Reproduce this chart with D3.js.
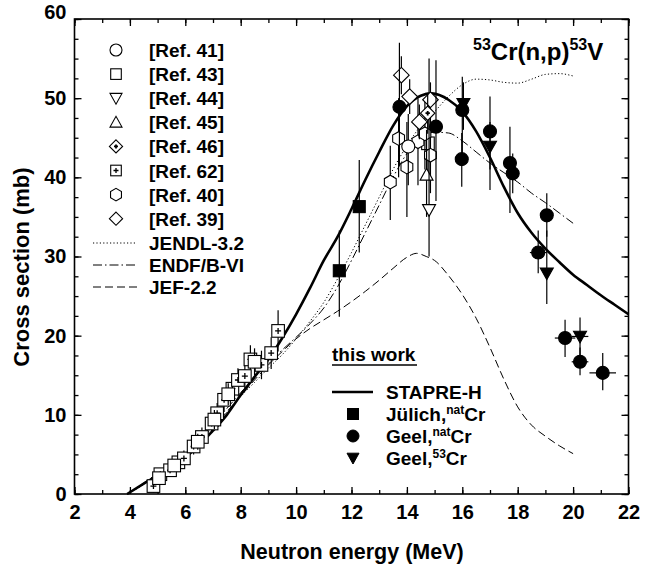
<!DOCTYPE html>
<html lang="en">
<head>
<meta charset="UTF-8">
<title>53Cr(n,p)53V cross section</title>
<script src="https://d3js.org/d3.v7.min.js"></script>
<style>
  body { margin: 0; background: #fff; }
  svg { display: block; font-family: "Liberation Sans", Arial, sans-serif; font-weight: bold; }
</style>
</head>
<body>
<svg id="chart" width="651" height="568"></svg>
<script>
// ---- data (energy in MeV, cross section in mb) ----
const stapre = [[3.9,0],[4.5,1.3],[5,2.4],[5.5,3.6],[6,4.6],[6.5,6.2],[7,8.0],[7.5,10.0],[8,12.5],[8.5,14.8],[9,17.0],[9.5,19.7],[10,22.7],[10.5,26.0],[11,29.5],[11.5,32.5],[12,36.0],[12.5,39.7],[13,43.2],[13.5,46.5],[14,49.0],[14.5,50.3],[14.9,50.6],[15.5,49.8],[16,48.3],[16.5,45.8],[17,42.5],[17.5,38.8],[18,35.5],[18.5,33.0],[19,31.0],[19.5,29.3],[20,27.7],[20.5,26.4],[21,25.1],[21.5,23.9],[22,22.7]];
const jendl = [[3.9,0],[4.5,1.2],[5,2.4],[5.5,3.5],[6,4.7],[6.5,6.3],[7,8.2],[7.5,10.3],[8,12.3],[8.5,14.1],[9,15.9],[9.5,17.6],[10,19.6],[10.5,21.8],[11,24.2],[11.5,27.2],[12,30.5],[12.5,34],[13,37.5],[13.5,41],[14,44],[14.5,46.5],[15,48.3],[15.5,50.2],[16,51.7],[16.5,52.4],[17,52.3],[17.5,52.0],[18,51.9],[18.5,52.4],[19,53.0],[19.5,53.1],[20,52.8]];
const endf = [[3.9,0],[4.5,1.4],[5,2.6],[5.5,3.8],[6,5.1],[6.5,6.8],[7,8.8],[7.5,10.8],[8,12.8],[8.5,14.7],[9,16.5],[9.5,18.2],[10,19.8],[10.5,21.5],[11,23.5],[11.5,26.2],[12,29.5],[12.5,33],[13,36.5],[13.5,40],[14,43],[14.5,45],[15,45.7],[15.5,45.6],[16,44.6],[16.5,43.2],[17,41.8],[17.5,40.6],[18,39.4],[18.5,38],[19,36.8],[19.5,35.5],[20,34.2]];
const jef = [[3.9,0],[4.5,1.3],[5,2.5],[5.5,3.7],[6,5.0],[6.5,6.6],[7,8.5],[7.5,10.4],[8,12.4],[8.5,14.4],[9,16.3],[9.5,18.0],[10,19.6],[10.5,20.9],[11,22.0],[11.5,23.1],[12,24.3],[12.5,25.6],[13,27.0],[13.5,28.5],[14,29.9],[14.35,30.4],[14.7,30.0],[15,29.5],[15.5,27.6],[16,25.2],[16.5,22.2],[17,18.5],[17.5,14.5],[18,11.0],[18.5,8.7],[19,7.3],[19.5,6.1],[20,5.1]];

// [energy, sigma, low, high, energy half-width]
const julich = [[11.56,28.2,22.4,33.3,0],[12.28,36.3,30.5,42.2,0]];
const geelNat = [[13.73,48.9,41.5,57.0,0],[15.05,46.4,37.0,54.8,0],[16.0,48.5,43.0,52.7,0],[15.98,42.3,38.8,45.6,0],[17.0,45.8,38.4,50.2,0],[17.72,41.8,35.5,46.4,0],[17.82,40.5,38.0,43.0,0],[19.05,35.2,32.5,38.0,0],[18.74,30.5,27.9,33.3,0.3],[19.71,19.7,17.3,22.0,0.37],[20.25,16.7,15.0,18.5,0.3],[21.07,15.3,13.1,17.8,0.48]];
const geel53 = [[16.04,49.3,46.0,52.0,0],[17.0,43.9,41.0,47.0,0],[19.05,27.9,24.0,33.3,0],[20.25,19.9,17.5,22.3,0.3]];

const ref41 = [[14.05,43.9,39.0,48.0]];
const ref43 = [[5.05,2.0,1.3,2.7],[5.6,3.6,2.8,4.4],[6.45,6.6,5.6,7.6],[7.05,9.4,8.2,10.6],[7.55,12.6,11.2,14.0],[8.5,16.7,15.0,18.4],[14.76,44.3,40.0,48.0]];
const ref44 = [[14.8,35.9,30.0,55.0]];
const ref45 = [[14.71,40.3,35.0,46.0]];
const ref46 = [[14.75,48.1,45.5,50.7]];
const ref62 = [[4.85,1.0,0.2,1.8],[5.1,2.5,1.7,3.3],[5.45,3.0,2.2,3.8],[5.75,4.0,3.1,4.9],[5.95,4.5,3.5,5.5],[6.3,6.0,5.0,7.0],[6.6,7.2,6.0,8.4],[6.95,8.9,7.7,10.1],[7.15,10.2,8.9,11.5],[7.4,11.9,10.5,13.3],[7.7,13.3,11.8,14.8],[7.9,14.4,12.9,15.9],[8.15,14.9,13.3,16.5],[8.35,17.0,15.2,18.8],[8.75,16.3,14.5,18.1],[9.1,17.8,15.8,19.8],[9.35,20.6,18.0,23.2]];
const ref40 = [[13.4,39.4,34.6,44.0],[13.7,44.9,40.0,50.0],[14.0,41.3,35.0,47.0],[14.4,44.5,39.0,50.0],[14.65,45.5,41.0,50.0],[14.85,42.8,38.0,47.5]];
const ref39 = [[13.8,52.9,50.5,55.3],[14.1,50.2,48.0,52.4],[14.45,47.0,44.8,49.2],[14.85,49.8,47.6,52.0]];

const refLabels = ["[Ref. 41]","[Ref. 43]","[Ref. 44]","[Ref. 45]","[Ref. 46]","[Ref. 62]","[Ref. 40]","[Ref. 39]"];
const libLabels = ["JENDL-3.2","ENDF/B-VI","JEF-2.2"];
const xTicks = [2,4,6,8,10,12,14,16,18,20,22];
const yTicks = [0,10,20,30,40,50,60];

// ---- setup ----
const svg = d3.select("#chart");
const x = d3.scaleLinear().domain([2, 22]).range([74.5, 628.5]);
const y = d3.scaleLinear().domain([0, 60]).range([494, 19]);

svg.append("rect").attr("width", 651).attr("height", 568).attr("fill", "#fff");

// axes: major ticks with labels, minor ticks without, all pointing inward
function addAxis(axis, tx, ty) {
  return svg.append("g").attr("transform", `translate(${tx},${ty})`).call(axis)
    .call(g => g.select(".domain").remove())
    .call(g => g.selectAll("line").attr("stroke", "#000").attr("stroke-width", 1.3));
}
const minorX = d3.range(2, 23, 1), minorY = d3.range(0, 60.1, 2.5);
addAxis(d3.axisBottom(x).tickValues(minorX).tickSize(-4).tickFormat(""), 0, 494);
addAxis(d3.axisTop(x).tickValues(minorX).tickSize(-4).tickFormat(""), 0, 19);
addAxis(d3.axisLeft(y).tickValues(minorY).tickSize(-4).tickFormat(""), 74.5, 0);
addAxis(d3.axisRight(y).tickValues(minorY).tickSize(-4).tickFormat(""), 628.5, 0);
addAxis(d3.axisTop(x).tickValues(xTicks).tickSize(-7).tickFormat(""), 0, 19);
addAxis(d3.axisRight(y).tickValues(yTicks).tickSize(-7).tickFormat(""), 628.5, 0);
addAxis(d3.axisBottom(x).tickValues(xTicks).tickSizeInner(-7).tickSizeOuter(0).tickPadding(11), 0, 494)
  .selectAll("text").attr("font-size", 20).attr("font-family", "Liberation Sans, Arial, sans-serif").attr("font-weight", "bold").attr("fill", "#000");
addAxis(d3.axisLeft(y).tickValues(yTicks).tickSizeInner(-7).tickSizeOuter(0).tickPadding(8), 74.5, 0)
  .selectAll("text").attr("font-size", 20).attr("font-family", "Liberation Sans, Arial, sans-serif").attr("font-weight", "bold").attr("fill", "#000")
  .attr("dy", d => d === 60 ? "-0.05em" : "0.32em");

svg.append("rect").attr("x", 74.5).attr("y", 19).attr("width", 554).attr("height", 475)
  .attr("fill", "none").attr("stroke", "#000").attr("stroke-width", 1.6);

svg.append("text").attr("x", 352).attr("y", 559).attr("text-anchor", "middle")
  .attr("font-size", 21.5).text("Neutron energy (MeV)");
svg.append("text").attr("transform", "translate(29,267) rotate(-90)").attr("text-anchor", "middle")
  .attr("font-size", 22).text("Cross section (mb)");

// ---- evaluated curves ----
const line = d3.line().x(d => x(d[0])).y(d => y(d[1])).curve(d3.curveMonotoneX);
const curveStyles = [
  [jendl, 1, "1.2,2.2"],
  [endf, 1, "9,3,1.5,3"],
  [jef, 1, "8,4"],
  [stapre, 2.6, null]
];
curveStyles.forEach(([data, w, dash]) => {
  svg.append("path").attr("d", line(data)).attr("fill", "none").attr("stroke", "#000")
    .attr("stroke-width", w).attr("stroke-dasharray", dash);
});

// ---- markers ----
function marker(g, type, size) {
  const s = size;
  switch (type) {
    case "circle": g.append("circle").attr("r", s); break;
    case "square": g.append("rect").attr("x", -s).attr("y", -s).attr("width", 2 * s).attr("height", 2 * s); break;
    case "down": g.append("path").attr("d", `M${-s},${-s * 0.8}L${s},${-s * 0.8}L0,${s * 1.0}Z`); break;
    case "up": g.append("path").attr("d", `M${-s},${s * 0.8}L${s},${s * 0.8}L0,${-s * 1.0}Z`); break;
    case "diamond": g.append("path").attr("d", `M0,${-s * 1.2}L${s * 1.2},0L0,${s * 1.2}L${-s * 1.2},0Z`); break;
    case "hex": {
      const pts = d3.range(6).map(i => { const a = Math.PI / 3 * i + Math.PI / 6; return [s * 1.05 * Math.cos(a), s * 1.05 * Math.sin(a)]; });
      g.append("path").attr("d", "M" + pts.join("L") + "Z"); break;
    }
  }
}
function plus(g, s, w) {
  g.append("path").attr("d", `M${-s},0L${s},0M0,${-s}L0,${s}`).attr("stroke-width", w || 1.3).attr("fill", "none");
}

function drawSeries(data, type, size, filled, extra) {
  const g = svg.append("g");
  data.forEach(d => {
    g.append("line").attr("x1", x(d[0])).attr("x2", x(d[0])).attr("y1", y(d[2])).attr("y2", y(d[3]))
      .attr("stroke", "#000").attr("stroke-width", 1.2);
    if (d[4]) g.append("line").attr("x1", x(d[0] - d[4])).attr("x2", x(d[0] + d[4])).attr("y1", y(d[1])).attr("y2", y(d[1]))
      .attr("stroke", "#000").attr("stroke-width", 1.2);
  });
  data.forEach(d => {
    const m = g.append("g").attr("transform", `translate(${x(d[0])},${y(d[1])})`)
      .attr("fill", filled ? "#000" : "#fff").attr("stroke", "#000").attr("stroke-width", 1.1);
    marker(m, type, size);
    if (extra === "plus") plus(m, 3);
    if (extra === "dot") plus(m, 2.2, 1.8);
  });
}

drawSeries(ref62, "square", 6.3, false, "plus");
drawSeries(ref43, "square", 6.3, false);
drawSeries(ref40, "hex", 6.5, false);
drawSeries(ref41, "circle", 6.5, false);
drawSeries(ref45, "up", 6.5, false);
drawSeries(ref44, "down", 6.5, false);
drawSeries(ref39, "diamond", 6.5, false);
drawSeries(ref46, "diamond", 6, false, "dot");
drawSeries(julich, "square", 6, true);
drawSeries(geelNat, "circle", 6.5, true);
drawSeries(geel53, "down", 6.5, true);

// ---- legend (references) ----
const refTypes = [["circle"],["square"],["down"],["up"],["diamond","dot"],["square","plus"],["hex"],["diamond"]];
const leg = svg.append("g").attr("font-size", 19);
refLabels.forEach((t, i) => {
  const yy = 50 + i * 24.1;
  const m = leg.append("g").attr("transform", `translate(116,${yy})`).attr("fill", "#fff").attr("stroke", "#000").attr("stroke-width", 1.1);
  const [type, extra] = refTypes[i];
  marker(m, type, type === "square" ? 5.3 : (type === "diamond" ? 5.5 : 6));
  if (extra === "plus") plus(m, 2.5);
  if (extra === "dot") plus(m, 2, 1.8);
  leg.append("text").attr("x", 149).attr("y", yy + 7).text(t);
});
const libDash = ["1.2,2.2", "9,3,1.5,3", "8,4"];
libLabels.forEach((t, i) => {
  const yy = 243 + i * 22;
  leg.append("line").attr("x1", 93).attr("x2", 137).attr("y1", yy).attr("y2", yy)
    .attr("stroke", "#000").attr("stroke-width", 1).attr("stroke-dasharray", libDash[i]);
  leg.append("text").attr("x", 149).attr("y", yy + 7).text(t);
});

// ---- legend (this work) ----
const tw = svg.append("g").attr("font-size", 19);
tw.append("text").attr("x", 332).attr("y", 361).text("this work");
tw.append("line").attr("x1", 332).attr("x2", 417).attr("y1", 365).attr("y2", 365).attr("stroke", "#000").attr("stroke-width", 1.5);
tw.append("line").attr("x1", 332).attr("x2", 373).attr("y1", 392).attr("y2", 392).attr("stroke", "#000").attr("stroke-width", 2.6);
tw.append("text").attr("x", 386).attr("y", 399).text("STAPRE-H");
const twItems = [["square", "Jülich,", "nat", "Cr"], ["circle", "Geel,", "nat", "Cr"], ["down", "Geel,", "53", "Cr"]];
twItems.forEach((it, i) => {
  const yy = 414 + i * 22;
  const m = tw.append("g").attr("transform", `translate(353,${yy})`).attr("fill", "#000").attr("stroke", "#000");
  marker(m, it[0], it[0] === "square" ? 5.5 : 6);
  const t = tw.append("text").attr("x", 386).attr("y", yy + 7);
  t.append("tspan").text(it[1]);
  t.append("tspan").attr("font-size", 12).attr("dy", -7).text(it[2]);
  t.append("tspan").attr("dy", 7).text(it[3]);
});

// ---- reaction label ----
const title = svg.append("text").attr("x", 473).attr("y", 60).attr("font-size", 24);
title.append("tspan").attr("font-size", 16).attr("dy", -10).text("53");
title.append("tspan").attr("dy", 10).text("Cr(n,p)");
title.append("tspan").attr("font-size", 16).attr("dy", -10).text("53");
title.append("tspan").attr("dy", 10).text("V");
</script>
</body>
</html>
